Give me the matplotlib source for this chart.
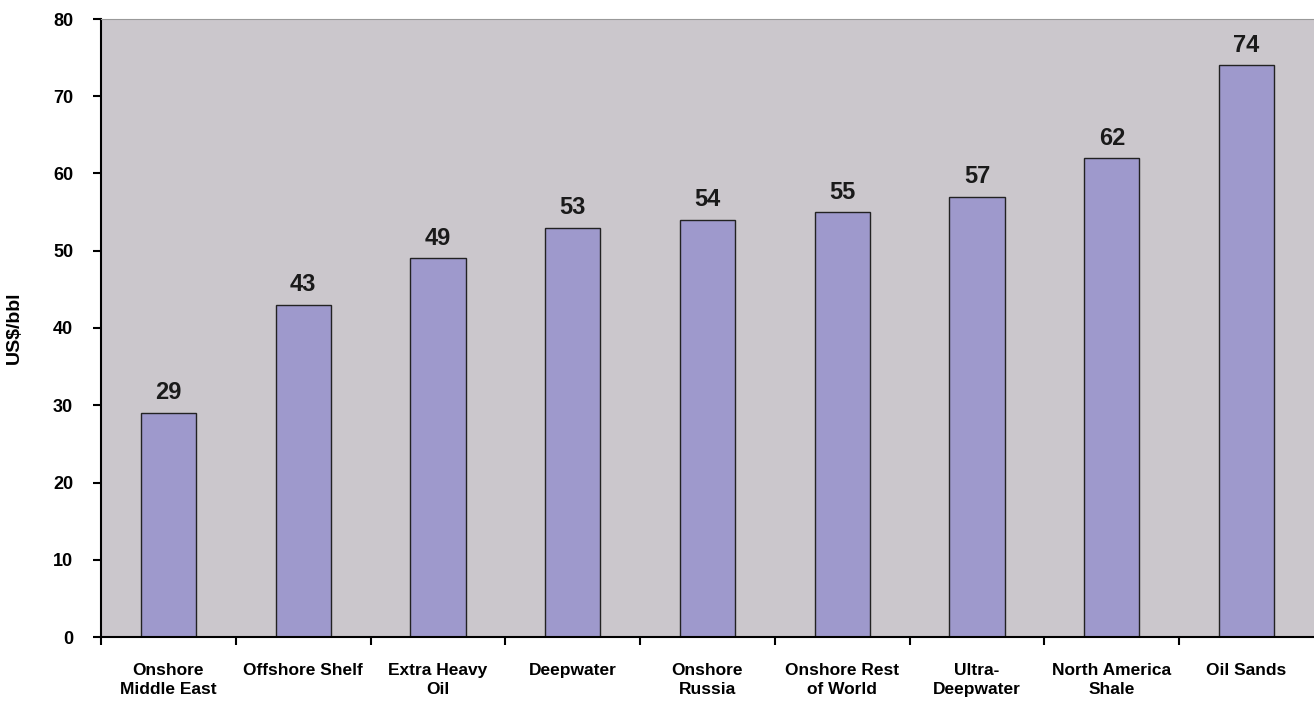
import matplotlib
matplotlib.use("Agg")
import matplotlib.pyplot as plt
import numpy as np

categories = ["Onshore\nMiddle East", "Offshore Shelf", "Extra Heavy\nOil", "Deepwater",
              "Onshore\nRussia", "Onshore Rest\nof World", "Ultra-\nDeepwater",
              "North America\nShale", "Oil Sands"]
values = [29, 43, 49, 53, 54, 55, 57, 62, 74]
yticks = [0, 10, 20, 30, 40, 50, 60, 70, 80]

plt.rcParams['font.family'] = ['Liberation Sans', 'DejaVu Sans']
plt.rcParams['font.weight'] = 'bold'

fig = plt.figure(figsize=(13.14, 7.02), dpi=100)
ax = fig.add_axes([101/1314, 65/702, 1 - 101/1314, (637-19)/702])
ax.set_facecolor('#CBC7CC')

x = np.arange(len(categories))
bars = ax.bar(x, values, width=0.41, color='#9E99CC', edgecolor='#222222', linewidth=1.0, zorder=2)
for xi, v in zip(x, values):
    ax.text(xi, v + 1.1, str(v), ha='center', va='bottom', fontsize=17, fontweight='bold', color='#1a1a1a')

ax.set_xlim(-0.5, len(categories) - 0.5)
ax.set_ylim(0, 80)
ax.set_yticks(yticks)
ax.set_yticklabels([str(t) for t in yticks], fontsize=13, fontweight='bold')
ax.set_xticks(x)
ax.set_xticklabels(categories, fontsize=12.5, fontweight='bold', linespacing=1.3)
ax.tick_params(axis='x', which='major', length=0, pad=19)
ax.set_xticks(np.arange(len(categories)) - 0.5, minor=True)
ax.tick_params(axis='x', which='minor', length=6, width=1.5, direction='out', color='black')
ax.tick_params(axis='y', length=6, width=1.5, direction='out', pad=14)
ax.set_ylabel("US$/bbl", fontsize=14, fontweight='bold', labelpad=22)

ax.spines['top'].set_color('#999999')
ax.spines['right'].set_visible(False)
ax.spines['left'].set_linewidth(1.5)
ax.spines['bottom'].set_linewidth(1.5)

fig.savefig("out.png", dpi=100)
